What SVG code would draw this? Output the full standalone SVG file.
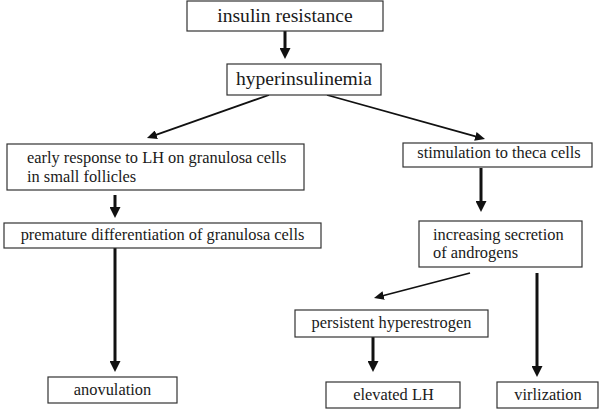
<svg xmlns="http://www.w3.org/2000/svg" width="600" height="409" viewBox="0 0 600 409">
<style>
.box{fill:#fff;stroke:#333;stroke-width:1.2}
.t{font-family:"Liberation Serif","Times New Roman",serif;fill:#1a1a1a}
.big{font-size:19.6px}
.sm{font-size:16.4px}
.c{text-anchor:middle}
.thick{stroke:#111;stroke-width:3;fill:none}
.thin{stroke:#111;stroke-width:1.8;fill:none}
</style>
<defs>
<marker id="hk" markerUnits="userSpaceOnUse" markerWidth="11" markerHeight="11" refX="3" refY="5.5" orient="auto">
<path d="M0,0 L11,5.5 L0,11 z" fill="#111"/>
</marker>
<marker id="hn" markerUnits="userSpaceOnUse" markerWidth="10" markerHeight="9" refX="2" refY="4.5" orient="auto">
<path d="M0,0 L10,4.5 L0,9 z" fill="#111"/>
</marker>
</defs>
<rect width="600" height="409" fill="#fff"/>
<g id="connectors">
<line class="thick" x1="285" y1="31" x2="285" y2="51" marker-end="url(#hk)"/>
<line class="thin" x1="269" y1="95" x2="154.5" y2="135.3" marker-end="url(#hn)"/>
<line class="thin" x1="327" y1="95" x2="477.3" y2="136.9" marker-end="url(#hn)"/>
<line class="thick" x1="115" y1="195" x2="115" y2="210" marker-end="url(#hk)"/>
<line class="thick" x1="481" y1="168" x2="481" y2="204" marker-end="url(#hk)"/>
<line class="thick" x1="115" y1="248" x2="115" y2="364" marker-end="url(#hk)"/>
<line class="thin" x1="470" y1="273" x2="381.7" y2="296" marker-end="url(#hn)"/>
<line class="thick" x1="537" y1="273" x2="537" y2="369" marker-end="url(#hk)"/>
<line class="thick" x1="373" y1="337" x2="373" y2="364" marker-end="url(#hk)"/>
</g>
<g id="insulin-resistance">
<rect class="box" x="187" y="1" width="196" height="30"/>
<text class="t big c" x="285" y="22">insulin resistance</text>
</g>
<g id="hyperinsulinemia">
<rect class="box" x="227" y="64" width="154" height="31"/>
<text class="t big c" x="304" y="85">hyperinsulinemia</text>
</g>
<g id="early-response">
<rect class="box" x="7" y="144" width="297" height="46"/>
<text class="t sm" x="27" y="163">early response to LH on granulosa cells</text>
<text class="t sm" x="27" y="182">in small follicles</text>
</g>
<g id="theca">
<rect class="box" x="403" y="143" width="189" height="24"/>
<text class="t sm c" x="499" y="158">stimulation to theca cells</text>
</g>
<g id="premature">
<rect class="box" x="4" y="223" width="317" height="25"/>
<text class="t sm c" x="162.5" y="240">premature differentiation of granulosa cells</text>
</g>
<g id="androgens">
<rect class="box" x="419" y="221" width="163" height="46"/>
<text class="t sm" x="433" y="240">increasing secretion</text>
<text class="t sm" x="433" y="258">of androgens</text>
</g>
<g id="hyperestrogen">
<rect class="box" x="295" y="310" width="193" height="27"/>
<text class="t sm c" x="391.5" y="328">persistent hyperestrogen</text>
</g>
<g id="anovulation">
<rect class="box" x="48" y="377" width="129" height="26"/>
<text class="t sm c" x="112.5" y="395">anovulation</text>
</g>
<g id="elevated-lh">
<rect class="box" x="326" y="382" width="134" height="26"/>
<text class="t sm c" x="393.5" y="399.5">elevated LH</text>
</g>
<g id="virlization">
<rect class="box" x="497" y="382" width="101" height="26"/>
<text class="t sm c" x="548" y="399.5">virlization</text>
</g>
</svg>
